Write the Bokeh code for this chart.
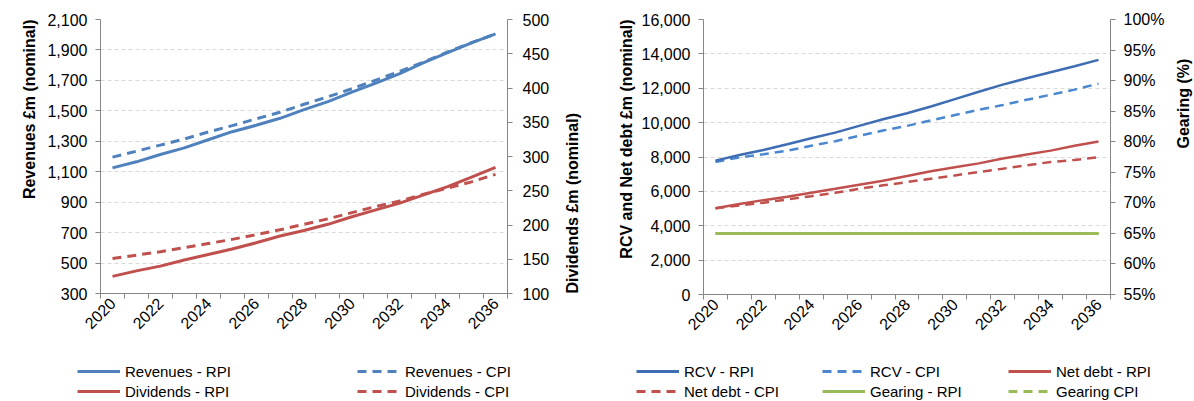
import math
from bokeh.plotting import figure
from bokeh.models import (Range1d, LinearAxis, FixedTicker, NumeralTickFormatter,
                          Legend, LegendItem, Label)
from bokeh.layouts import row, column
from bokeh.embed import file_html
from bokeh.resources import INLINE

# ---------------- data ----------------
years = [2020, 2021, 2022, 2023, 2024, 2025, 2026, 2027, 2028,
         2029, 2030, 2031, 2032, 2033, 2034, 2035, 2036]
label_years = [2020, 2022, 2024, 2026, 2028, 2030, 2032, 2034, 2036]

revenues_rpi = [1125, 1165, 1213, 1257, 1310, 1363, 1405, 1451, 1508,
                1561, 1623, 1682, 1744, 1816, 1882, 1946, 2005]
revenues_cpi = [1196, 1235, 1275, 1315, 1361, 1403, 1447, 1491, 1543,
                1592, 1645, 1702, 1759, 1821, 1887, 1948, 2005]
dividends_rpi = [125, 133, 140, 149, 157, 165, 174, 184, 192,
                 201, 212, 222, 232, 244, 256, 270, 284]
dividends_cpi = [151, 156, 161, 167, 173, 179, 186, 193, 201,
                 209, 218, 227, 235, 245, 254, 263, 274]

rcv_rpi = [7790, 8120, 8410, 8740, 9090, 9420, 9810, 10200, 10550,
           10940, 11370, 11800, 12210, 12580, 12930, 13280, 13650]
rcv_cpi = [7710, 7980, 8160, 8370, 8650, 8920, 9230, 9540, 9810,
           10130, 10440, 10750, 11020, 11330, 11620, 11920, 12270]
netdebt_rpi = [5020, 5260, 5490, 5690, 5920, 6150, 6390, 6620, 6890,
               7170, 7400, 7630, 7910, 8140, 8370, 8650, 8900]
netdebt_cpi = [5020, 5180, 5340, 5530, 5720, 5920, 6150, 6350, 6540,
               6740, 6930, 7130, 7320, 7520, 7710, 7830, 7980]
gearing_rpi = [0.65, 0.65, 0.65, 0.65, 0.65, 0.65, 0.65, 0.65, 0.65,
               0.65, 0.65, 0.65, 0.65, 0.65, 0.65, 0.65, 0.65]
gearing_cpi = [0.65, 0.65, 0.65, 0.65, 0.65, 0.65, 0.65, 0.65, 0.65,
               0.65, 0.65, 0.65, 0.65, 0.65, 0.65, 0.65, 0.65]

rev_ticks = [300, 500, 700, 900, 1100, 1300, 1500, 1700, 1900, 2100]
div_ticks = [100, 150, 200, 250, 300, 350, 400, 450, 500]
rcv_ticks = [0, 2000, 4000, 6000, 8000, 10000, 12000, 14000, 16000]
gear_ticks = [0.55, 0.60, 0.65, 0.70, 0.75, 0.80, 0.85, 0.90, 0.95, 1.00]

# ---------------- styles ----------------
FONT = "Liberation Sans"
AXIS_COLOR = "#868686"
GRID_COLOR = "#D9D9D9"
BLUE = "#4F81BD"
BLUE_DARK = "#3E6DB3"
BLUE_LIGHT = "#4A87CF"
RED = "#C0504D"
GREEN = "#9BBB59"
DASH = "9 6"
TOP_H = 340

boundaries = [y - 0.5 for y in years] + [years[-1] + 0.5]


def base_figure(fw, fh, ylo, yhi, bl, br, bt, bb):
    p = figure(frame_width=fw, frame_height=fh, output_backend="svg",
               toolbar_location=None, title=None,
               x_range=Range1d(years[0] - 0.5, years[-1] + 0.5),
               y_range=Range1d(ylo, yhi),
               min_border_left=bl, min_border_right=br,
               min_border_top=bt, min_border_bottom=bb)
    p.outline_line_color = None
    p.background_fill_color = "white"
    p.border_fill_color = "white"
    p.xgrid.visible = False
    p.ygrid.grid_line_color = GRID_COLOR
    p.ygrid.grid_line_dash = "4 3"
    p.ygrid.grid_line_width = 1

    ax = p.xaxis[0]
    ax.ticker = FixedTicker(ticks=label_years, minor_ticks=boundaries)
    ax.major_label_orientation = math.pi / 4
    ax.major_tick_line_color = None
    ax.major_tick_out = 0
    ax.major_tick_in = 0
    ax.minor_tick_line_color = AXIS_COLOR
    ax.minor_tick_out = 5
    ax.minor_tick_in = 0
    ax.axis_line_color = AXIS_COLOR
    ax.major_label_text_font = FONT
    ax.major_label_text_font_size = "16px"
    ax.major_label_text_color = "black"
    ax.major_label_standoff = 2
    return p


def style_y(ax, ticks, fmt, tick_standoff):
    ax.ticker = FixedTicker(ticks=ticks)
    ax.formatter = NumeralTickFormatter(format=fmt)
    ax.axis_line_color = AXIS_COLOR
    ax.major_tick_line_color = AXIS_COLOR
    ax.major_tick_out = 5
    ax.major_tick_in = 0
    ax.minor_tick_line_color = None
    ax.major_label_text_font = FONT
    ax.major_label_text_font_size = "16px"
    ax.major_label_text_color = "black"
    ax.major_label_standoff = tick_standoff


def axis_title(ax, label, standoff, align, text_align=None):
    ax.axis_label = label
    ax.axis_label_text_font = FONT
    ax.axis_label_text_font_size = "16px"
    ax.axis_label_text_font_style = "bold"
    ax.axis_label_text_color = "black"
    ax.axis_label_standoff = standoff
    ax.axis_label_orientation = math.pi / 2
    ax.axis_label_align = align
    if text_align is not None:
        ax.axis_label_text_align = text_align


def blank_figure(width, height):
    lf = figure(width=width, height=height, output_backend="svg",
                toolbar_location=None, title=None,
                x_range=Range1d(0, 1), y_range=Range1d(0, 1),
                x_axis_location=None, y_axis_location=None,
                min_border=0)
    lf.min_border_left = 0
    lf.min_border_right = 0
    lf.min_border_top = 0
    lf.min_border_bottom = 0
    lf.outline_line_color = None
    lf.grid.visible = False
    lf.background_fill_color = "white"
    lf.border_fill_color = "white"
    return lf


def title_strip(width, text, x, y):
    # rotated title reading bottom-to-top
    st = blank_figure(width, TOP_H)
    st.add_layout(Label(x=x, y=y, x_units="screen", y_units="screen", text=text,
                        angle=math.pi / 2, text_align="left",
                        text_baseline="middle", text_font=FONT,
                        text_font_size="16px", text_font_style="bold",
                        text_color="black"))
    return st


def make_legend(items, ncols, x, y, label_width):
    return Legend(items=items, location=(x, y), orientation="horizontal",
                  ncols=ncols, glyph_width=43, glyph_height=18,
                  label_height=18, label_width=label_width,
                  label_standoff=5, spacing=2, padding=0, margin=0,
                  border_line_color=None, background_fill_alpha=0,
                  label_text_font=FONT, label_text_font_size="15px",
                  label_text_color="black")


# ---------------- left chart ----------------
p1 = base_figure(407, 274, rev_ticks[0], rev_ticks[-1], 100, 85, 19, 47)
p1.ygrid.ticker = FixedTicker(ticks=rev_ticks)
style_y(p1.yaxis[0], rev_ticks, "0,0", 8)
axis_title(p1.yaxis[0], "Revenues £m (nominal)", 15, "end", "right")
p1.extra_y_ranges = {"div": Range1d(div_ticks[0], div_ticks[-1])}
ax_div = LinearAxis(y_range_name="div")
style_y(ax_div, div_ticks, "0", 10)
axis_title(ax_div, "Dividends £m (nominal)", 20, "start")
p1.add_layout(ax_div, "right")

p1.line(years, revenues_cpi, line_color=BLUE, line_width=3, line_dash=DASH)
p1.line(years, revenues_rpi, line_color=BLUE, line_width=3)
p1.line(years, dividends_cpi, line_color=RED, line_width=3, line_dash=DASH,
        y_range_name="div")
p1.line(years, dividends_rpi, line_color=RED, line_width=3, y_range_name="div")

# ---------------- right chart ----------------
p2 = base_figure(407, 275, rcv_ticks[0], rcv_ticks[-1], 111, 60, 13, 52)
p2.ygrid.ticker = FixedTicker(ticks=rcv_ticks)
style_y(p2.yaxis[0], rcv_ticks, "0,0", 8)
axis_title(p2.yaxis[0], "RCV and Net debt £m (nominal)", 12, "end", "right")
p2.extra_y_ranges = {"gear": Range1d(gear_ticks[0], gear_ticks[-1])}
ax_gear = LinearAxis(y_range_name="gear")
style_y(ax_gear, gear_ticks, "0%", 8)
p2.add_layout(ax_gear, "right")

p2.line(years, rcv_cpi, line_color=BLUE_LIGHT, line_width=2.5, line_dash=DASH)
p2.line(years, rcv_rpi, line_color=BLUE_DARK, line_width=2.5)
p2.line(years, netdebt_cpi, line_color=RED, line_width=2.5, line_dash=DASH)
p2.line(years, netdebt_rpi, line_color=RED, line_width=2.5)
p2.line(years, gearing_cpi, line_color=GREEN, line_width=3, line_dash=DASH,
        y_range_name="gear")
p2.line(years, gearing_rpi, line_color=GREEN, line_width=3, y_range_name="gear")

strip2 = title_strip(24, "Gearing (%)", 13, TOP_H - 200)

# ---------------- legends (series drawn outside the legend strip's view) ----------------
LEG_H = 61
l1 = blank_figure(592, LEG_H)
s1 = l1.line(years, revenues_rpi, line_color=BLUE, line_width=3)
s2 = l1.line(years, revenues_cpi, line_color=BLUE, line_width=3, line_dash=DASH)
s3 = l1.line(years, dividends_rpi, line_color=RED, line_width=3)
s4 = l1.line(years, dividends_cpi, line_color=RED, line_width=3, line_dash=DASH)
l1.add_layout(make_legend([
    LegendItem(label="Revenues - RPI", renderers=[s1]),
    LegendItem(label="Revenues - CPI", renderers=[s2]),
    LegendItem(label="Dividends - RPI", renderers=[s3]),
    LegendItem(label="Dividends - CPI", renderers=[s4]),
], 2, 77, 1, 230))

l2 = blank_figure(602, LEG_H)
t1 = l2.line(years, rcv_rpi, line_color=BLUE_DARK, line_width=3)
t2 = l2.line(years, rcv_cpi, line_color=BLUE_LIGHT, line_width=3, line_dash=DASH)
t3 = l2.line(years, netdebt_rpi, line_color=RED, line_width=3)
t4 = l2.line(years, netdebt_cpi, line_color=RED, line_width=3, line_dash=DASH)
t5 = l2.line(years, gearing_rpi, line_color=GREEN, line_width=3)
t6 = l2.line(years, gearing_cpi, line_color=GREEN, line_width=3, line_dash=DASH)
l2.add_layout(make_legend([
    LegendItem(label="RCV - RPI", renderers=[t1]),
    LegendItem(label="RCV - CPI", renderers=[t2]),
    LegendItem(label="Net debt - RPI", renderers=[t3]),
    LegendItem(label="Net debt - CPI", renderers=[t4]),
    LegendItem(label="Gearing - RPI", renderers=[t5]),
    LegendItem(label="Gearing CPI", renderers=[t6]),
], 3, 44, 1, 136))

layout = column(row(p1, p2, strip2), row(l1, l2))
open("out.html", "w").write(file_html(layout, INLINE))
